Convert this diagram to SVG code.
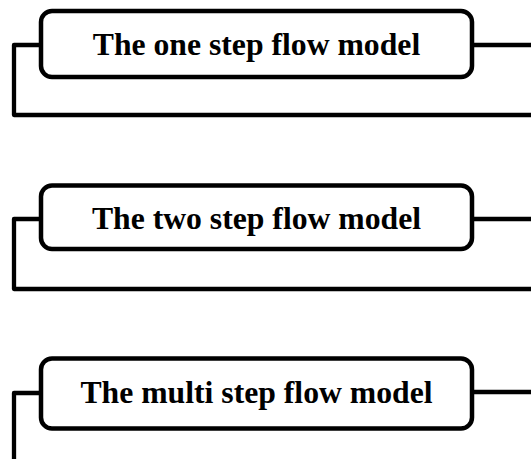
<svg xmlns="http://www.w3.org/2000/svg" width="531" height="459" viewBox="0 0 531 459">
<style>
.box{fill:#fff;stroke:#000;stroke-width:4.5}
.lbl{font-family:"Liberation Serif","Times New Roman",serif;font-weight:bold;font-size:31.7px;fill:#000;text-anchor:middle}
.conn path{fill:none;stroke:#000;stroke-width:4.3;stroke-linejoin:round;stroke-linecap:butt}
</style>
<rect width="531" height="459" fill="#fff"/>
<g class="conn" id="connectors">
<path d="M41 45 H14 V115 H531"/>
<path d="M472 45 H531"/>
<path d="M41 219 H14 V289 H531"/>
<path d="M472 219 H531"/>
<path d="M41 393 H14 V459"/>
<path d="M472 392 H531"/>
</g>
<g id="node1">
<rect class="box" x="41" y="11" width="431" height="66" rx="11"/>
<text class="lbl" x="256.5" y="55">The one step flow model</text>
</g>
<g id="node2">
<rect class="box" x="41" y="185.5" width="431" height="63.5" rx="11"/>
<text class="lbl" x="256.5" y="229">The two step flow model</text>
</g>
<g id="node3">
<rect class="box" x="41" y="358.5" width="431" height="70" rx="11"/>
<text class="lbl" x="256.5" y="403">The multi step flow model</text>
</g>
</svg>
